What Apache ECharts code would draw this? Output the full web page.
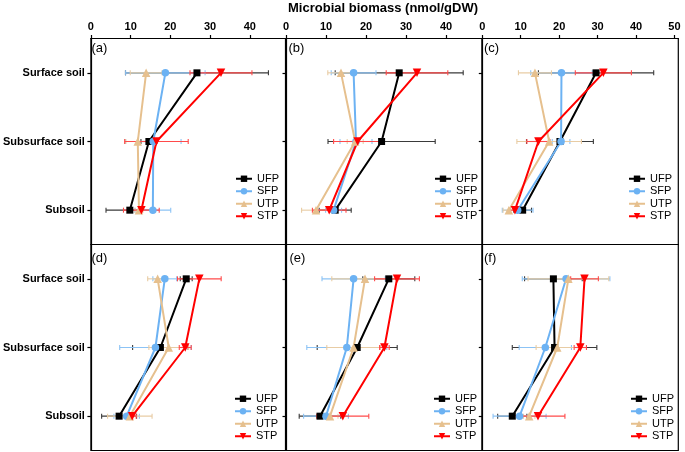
<!DOCTYPE html>
<html><head><meta charset="utf-8">
<script src="https://cdn.jsdelivr.net/npm/echarts@6/dist/echarts.min.js"></script>
<style>html,body{margin:0;padding:0;background:#fff}#c{width:685px;height:452px}</style>
</head><body><div id="c"></div>
<script>
// ---- data ----
const depths = ['Surface soil', 'Subsurface soil', 'Subsoil'];
const panelLabels = ['(a)', '(b)', '(c)', '(d)', '(e)', '(f)'];
const groups = ['UFP', 'SFP', 'UTP', 'STP'];
const xTicks = [0, 10, 20, 30, 40, 50];

// each row = one panel (a..f), values for [Surface, Subsurface, Subsoil]
const UFP_mean = [[26.7, 14.6, 9.8], [28.3, 23.9, 12.3], [29.6, 20.2, 10.5], [24.0, 17.5, 7.1], [25.7, 17.8, 8.5], [18.5, 18.8, 7.8]];
const UFP_err  = [[18, 2, 6], [16, 13.4, 4], [15, 8.7, 2.3], [1.5, 7, 4.4], [6.5, 10, 5.2], [7.5, 11, 3.8]];
const SFP_mean = [[18.75, 15.7, 15.6], [16.9, 17.5, 11.9], [20.6, 20.5, 9.2], [18.6, 16.25, 9.0], [16.9, 15.2, 10.0], [21.8, 16.4, 9.7]];
const SFP_err  = [[10, 7, 4.5], [5.6, 4, 2], [8, 2.3, 4], [3, 9, 3.2], [7.9, 10, 5.6], [11.4, 6.8, 6.9]];
const UTP_mean = [[13.9, 11.8, 12.1], [13.75, 17.3, 7.5], [13.7, 17.4, 6.9], [16.8, 19.6, 9.8], [19.75, 16.9, 11.0], [22.4, 19.5, 12.2]];
const UTP_err  = [[4, 3, 1], [3.3, 2, 3.6], [4.3, 8.4, 1.5], [2.5, 5, 5.6], [8.3, 6.7, 2], [10.5, 5.5, 1.5]];
const STP_mean = [[32.75, 16.5, 12.7], [32.75, 17.9, 10.8], [31.5, 14.6, 8.5], [27.3, 23.75, 10.4], [27.75, 24.6, 14.2], [26.6, 25.5, 14.5]];
const STP_err  = [[7.8, 8, 4.5], [7.7, 6, 4.2], [7.3, 3, 1.5], [5.5, 1.5, 1], [5.6, 1.2, 6.5], [3.6, 1.6, 7]];

// ---- styling ----
const FONT = '"Liberation Sans", Arial, Helvetica, sans-serif';
const means = { UFP: UFP_mean, SFP: SFP_mean, UTP: UTP_mean, STP: STP_mean };
const errs = { UFP: UFP_err, SFP: SFP_err, UTP: UTP_err, STP: STP_err };
const colors = { UFP: '#000000', SFP: '#6cb2f3', UTP: '#e6c08e', STP: '#ff0000' };
const errColors = { UFP: '#3a3a3a', SFP: '#8cc3f5', UTP: '#e8cca4', STP: '#ff4a4a' };
const symbols = { UFP: 'rect', SFP: 'circle', UTP: 'triangle', STP: 'path://M0,0L10,0L5,9Z' };
const symSizes = { UFP: 7, SFP: 7.5, UTP: 8.5, STP: 8.5 };

const colLeft = [89.5, 286, 482.3];
const colWidth = [196, 196, 196];
const colMax = [49, 49, 51];
const rowTop = [38.5, 244.5];
const rowHeight = 206;
const legendPos = [[235, 173], [434, 173], [628, 173], [234, 393], [433, 393], [630, 393]];
const labelPos = [[91.5, 50], [288.5, 50], [484, 50], [91.5, 260], [289.5, 260], [484, 260]];

const grids = [], xAxes = [], yAxes = [], series = [], legends = [], graphics = [];

for (let i = 0; i < 6; i++) {
  const row = Math.floor(i / 3), col = i % 3;
  grids.push({
    left: colLeft[col], top: rowTop[row], width: colWidth[col], height: rowHeight,
    show: true, borderColor: '#000', borderWidth: 1.2, backgroundColor: 'transparent', containLabel: false
  });
  xAxes.push({
    gridIndex: i, type: 'value', position: 'top', min: 0, max: colMax[col], interval: 10,
    axisLine: { show: row === 0, lineStyle: { color: '#000', width: 1.2 } },
    axisTick: { show: row === 0, length: 3.5, lineStyle: { color: '#000', width: 1.2 } },
    axisLabel: {
      show: row === 0, margin: 6, color: '#000', fontFamily: FONT, fontSize: 11, fontWeight: 'bold',
      showMaxLabel: false, showMinLabel: true,
      formatter: v => (xTicks.indexOf(v) >= 0 ? String(v) : '')
    },
    splitLine: { show: false }
  });
  yAxes.push({
    gridIndex: i, type: 'category', data: depths, inverse: true,
    axisLine: { show: true, lineStyle: { color: '#000', width: 1.2 } },
    axisTick: { show: true, alignWithLabel: true, length: 3.5, lineStyle: { color: '#000', width: 1.2 } },
    axisLabel: { show: col === 0, margin: 6, color: '#000', fontFamily: FONT, fontSize: 11, fontWeight: 'bold' },
    splitLine: { show: false }
  });
  groups.forEach(g => {
    const m = means[g][i], e = errs[g][i];
    series.push({
      type: 'custom', name: g + ' error', xAxisIndex: i, yAxisIndex: i, z: 1,
      encode: { x: [0, 1], y: 2 },
      data: m.map((v, k) => [v - e[k], v + e[k], k]),
      renderItem: (params, api) => {
        const y = api.value(2);
        const p1 = api.coord([api.value(0), y]);
        const p2 = api.coord([api.value(1), y]);
        const h = 2.5;
        const style = { stroke: errColors[g], lineWidth: 1.1 };
        return { type: 'group', children: [
          { type: 'line', shape: { x1: p1[0], y1: p1[1], x2: p2[0], y2: p2[1] }, style },
          { type: 'line', shape: { x1: p1[0], y1: p1[1] - h, x2: p1[0], y2: p1[1] + h }, style },
          { type: 'line', shape: { x1: p2[0], y1: p2[1] - h, x2: p2[0], y2: p2[1] + h }, style }
        ] };
      }
    });
  });
  groups.forEach(g => {
    series.push({
      type: 'line', name: g, xAxisIndex: i, yAxisIndex: i, z: 3,
      data: means[g][i].map((v, k) => [v, depths[k]]),
      symbol: symbols[g], symbolSize: symSizes[g], showSymbol: true,
      lineStyle: { color: colors[g], width: 2 },
      itemStyle: { color: colors[g], borderWidth: 0 },
      emphasis: { disabled: true }, animation: false
    });
  });
  legends.push({
    data: groups, orient: 'vertical', left: legendPos[i][0], top: legendPos[i][1],
    padding: 0, itemWidth: 16, itemHeight: 8, itemGap: 1,
    selectedMode: false,
    textStyle: { color: '#000', fontFamily: FONT, fontSize: 11, lineHeight: 11.5 }
  });
  graphics.push({
    type: 'text', left: labelPos[i][0], top: labelPos[i][1] - 8,
    style: { text: panelLabels[i], fill: '#000', font: '13px ' + FONT }
  });
}
graphics.push({
  type: 'text', x: 383, y: 8,
  style: { text: 'Microbial biomass (nmol/gDW)', fill: '#000', font: 'bold 13px ' + FONT, textAlign: 'center', textVerticalAlign: 'middle' }
});

const chart = echarts.init(document.getElementById('c'), null, { renderer: 'canvas' });
chart.setOption({
  animation: false,
  backgroundColor: '#fff',
  grid: grids, xAxis: xAxes, yAxis: yAxes, series: series, legend: legends, graphic: graphics
});
</script>
</body></html>
